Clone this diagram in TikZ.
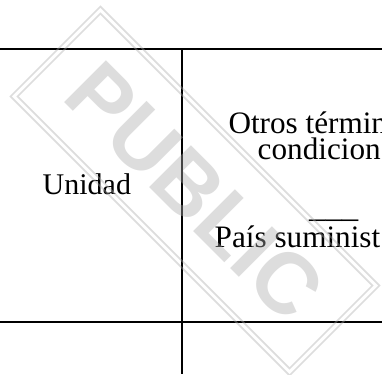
\documentclass[tikz,border=0pt]{standalone}
\usepackage{fontspec}
\setmainfont{Liberation Serif}
\newfontfamily\wmfont{Liberation Sans Bold}
\definecolor{wmgray}{RGB}{170,170,170}
\begin{document}
\begin{tikzpicture}[x=1pt,y=-1pt,
  rulel/.style={line width=2.3pt, black},
  wmline/.style={draw=wmgray, line width=1.7pt, opacity=0.4},
  lbl/.style={font=\fontsize{30}{30}\selectfont, inner sep=0pt, anchor=base west},
  rlbl/.style={lbl, font=\fontsize{31.2}{31.2}\selectfont}]
\useasboundingbox (0,0) rectangle (382,374);
\clip (0,0) rectangle (382,374);
% table rules
\coordinate (htl) at (0,48.8);
\coordinate (htr) at (382,48.8);
\coordinate (hbl) at (0,322);
\coordinate (hbr) at (382,322);
\coordinate (vt) at (182.2,48.8);
\coordinate (vb) at (182.2,374);
\draw[rulel] (htl) -- (htr);
\draw[rulel] (hbl) -- (hbr);
\draw[rulel] (vt) -- (vb);
% texts
\node[lbl] (unidad) at (42.5,194.3) {Unidad};
\node[rlbl] (otros) at (228.3,133.3) {Otros términ};
\node[rlbl] (cond) at (257.5,159.3) {condicion};
\node[rlbl] (sep) at (309,217) {\scalebox{1.05}[1]{\_\_\_}};
\node[rlbl] (pais) at (214.5,247.3) {País suminist};
% watermark
\begin{scope}[shift={(195,191)}, rotate=-45]
  \draw[wmline] (-197.3,-63.6) rectangle (197.3,63.6);
  \draw[wmline] (-192.3,-58.6) rectangle (192.3,58.6);
  \node[rotate=-45, text=wmgray, text opacity=0.4, inner sep=0pt,
        font=\wmfont\fontsize{86}{86}\selectfont] (wm) at (0,0) {PUBLIC};
\end{scope}
\end{tikzpicture}
\end{document}
